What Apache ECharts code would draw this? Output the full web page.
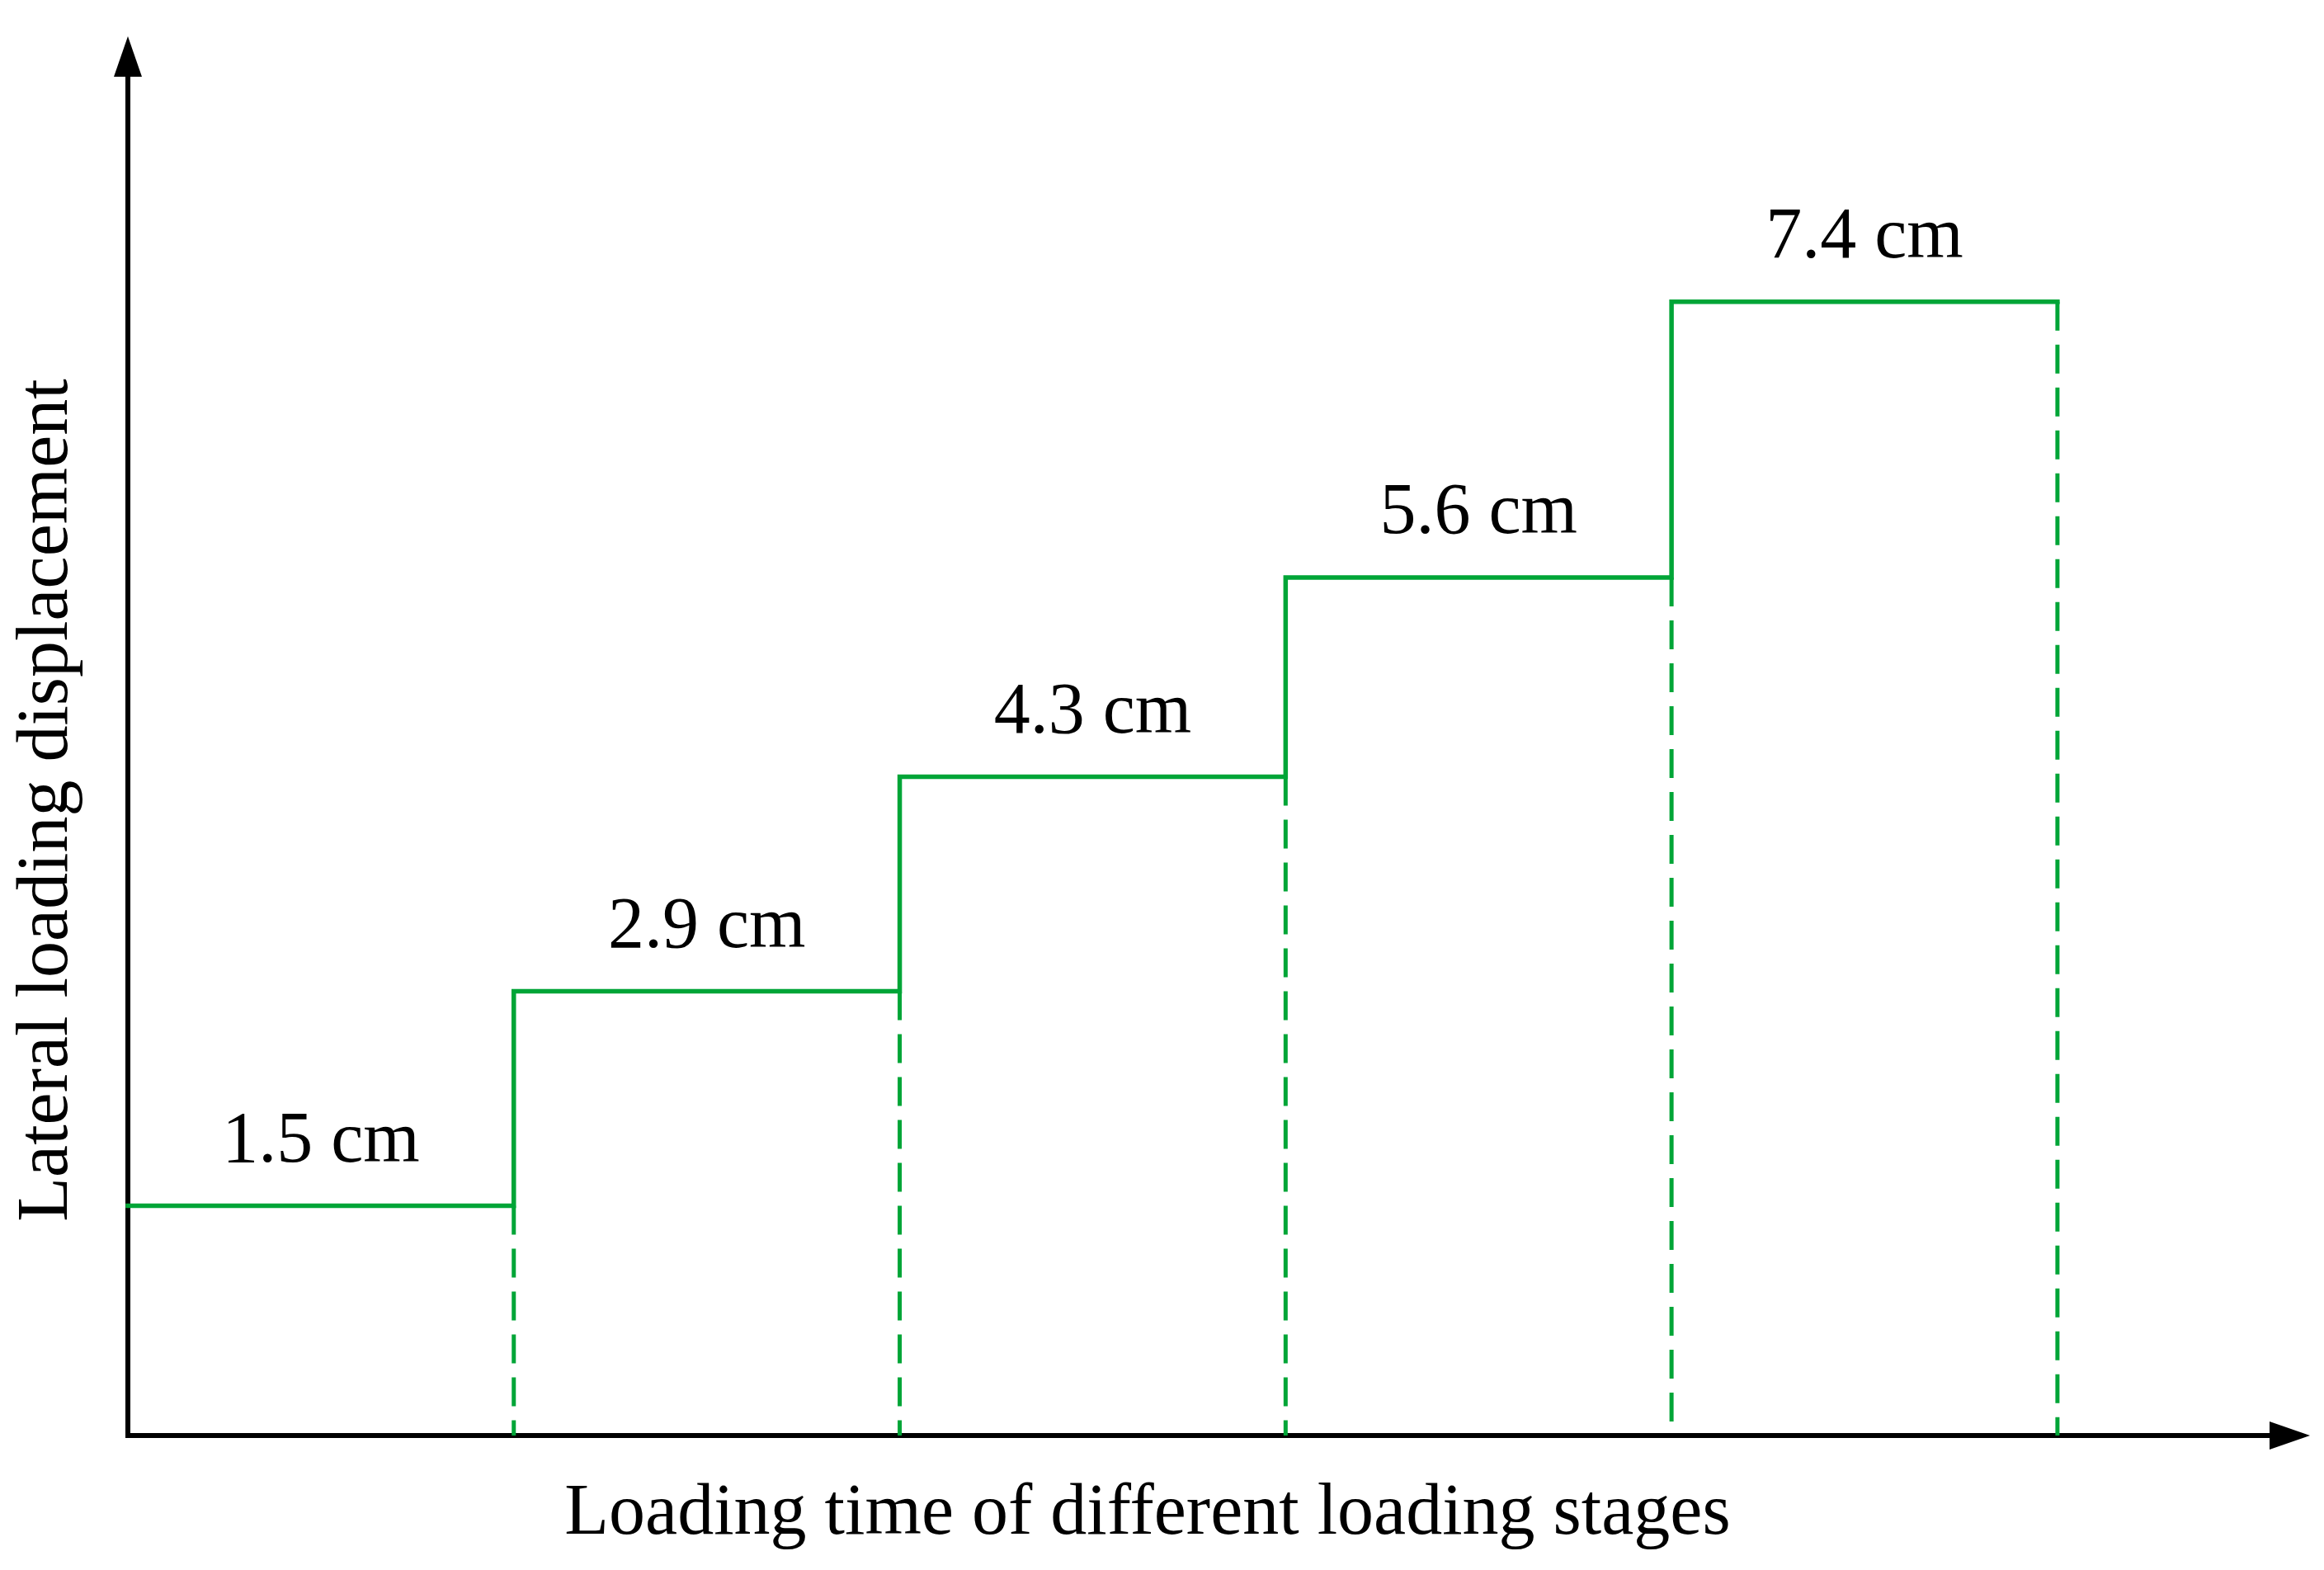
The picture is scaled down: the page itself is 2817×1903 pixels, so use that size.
<!DOCTYPE html>
<html>
<head>
<meta charset="utf-8">
<script src="https://cdn.jsdelivr.net/npm/echarts@6/dist/echarts.min.js"></script>
<style>
html,body{margin:0;padding:0;background:#fff;}
#main{width:2817px;height:1903px;}
</style>
</head>
<body>
<div id="main"></div>
<script>
// Data
var stages = [1, 2, 3, 4, 5];
var displacement = [1.5, 2.9, 4.3, 5.6, 7.4];
var valueLabels = ['1.5 cm', '2.9 cm', '4.3 cm', '5.6 cm', '7.4 cm'];
var xTitle = 'Loading time of different loading stages';
var yTitle = 'Lateral loading displacement';

var GREEN = '#00a537';
var FONT = "'Liberation Serif', 'Times New Roman', serif";

// step line points
var stepData = [];
for (var i = 0; i < displacement.length; i++) stepData.push([i, displacement[i]]);
stepData.push([displacement.length, displacement[displacement.length - 1]]);

var series = [];
// dashed verticals at the end of each stage (drawn top-down)
for (var k = 0; k < stages.length; k++) {
  series.push({
    type: 'line', silent: true, symbol: 'none',
    data: [[stages[k], displacement[k]], [stages[k], 0]],
    lineStyle: {color: GREEN, width: 5, type: [35, 17]},
    z: 2
  });
}
series.push({
  type: 'line', step: 'end', symbol: 'none', silent: true,
  data: stepData,
  lineStyle: {color: GREEN, width: 5.5, cap: 'square', join: 'miter'},
  z: 3
});
// value labels
var labelData = displacement.map(function (v, i) { return {value: [i + 0.5, v], name: valueLabels[i]}; });
series.push({
  type: 'scatter', symbolSize: 0, silent: true,
  itemStyle: {opacity: 1, color: 'rgba(0,0,0,0)'},
  data: labelData,
  label: {
    show: true, position: 'top', distance: 33, opacity: 1,
    formatter: function (p) { return p.name; },
    color: '#000', fontFamily: FONT, fontSize: 88, lineHeight: 88
  },
  z: 4
});

var chart = echarts.init(document.getElementById('main'), null, {renderer: 'canvas'});
chart.setOption({
  backgroundColor: '#fff',
  animation: false,
  grid: {left: 155, right: 41.5, top: 68.5, bottom: 163, containLabel: false},
  xAxis: {
    type: 'value', min: 0, max: 5.602,
    axisLine: {show: true, onZero: false, symbol: ['none', 'triangle'], symbolSize: [34, 49],
      lineStyle: {color: '#000', width: 6, cap: 'square'}},
    axisTick: {show: false}, axisLabel: {show: false}, splitLine: {show: false}
  },
  yAxis: {
    type: 'value', min: 0, max: 9,
    axisLine: {show: true, onZero: false, symbol: ['none', 'triangle'], symbolSize: [34, 49],
      lineStyle: {color: '#000', width: 6, cap: 'square'}},
    axisTick: {show: false}, axisLabel: {show: false}, splitLine: {show: false}
  },
  graphic: [
    {type: 'text', x: 1391, y: 1836, style: {text: xTitle, font: '88px ' + FONT, fill: '#000', textAlign: 'center', textVerticalAlign: 'middle'}},
    {type: 'text', x: 58, y: 970, rotation: Math.PI / 2, style: {text: yTitle, font: '88px ' + FONT, fill: '#000', textAlign: 'center', textVerticalAlign: 'middle'}}
  ],
  series: series
});
</script>
</body>
</html>
